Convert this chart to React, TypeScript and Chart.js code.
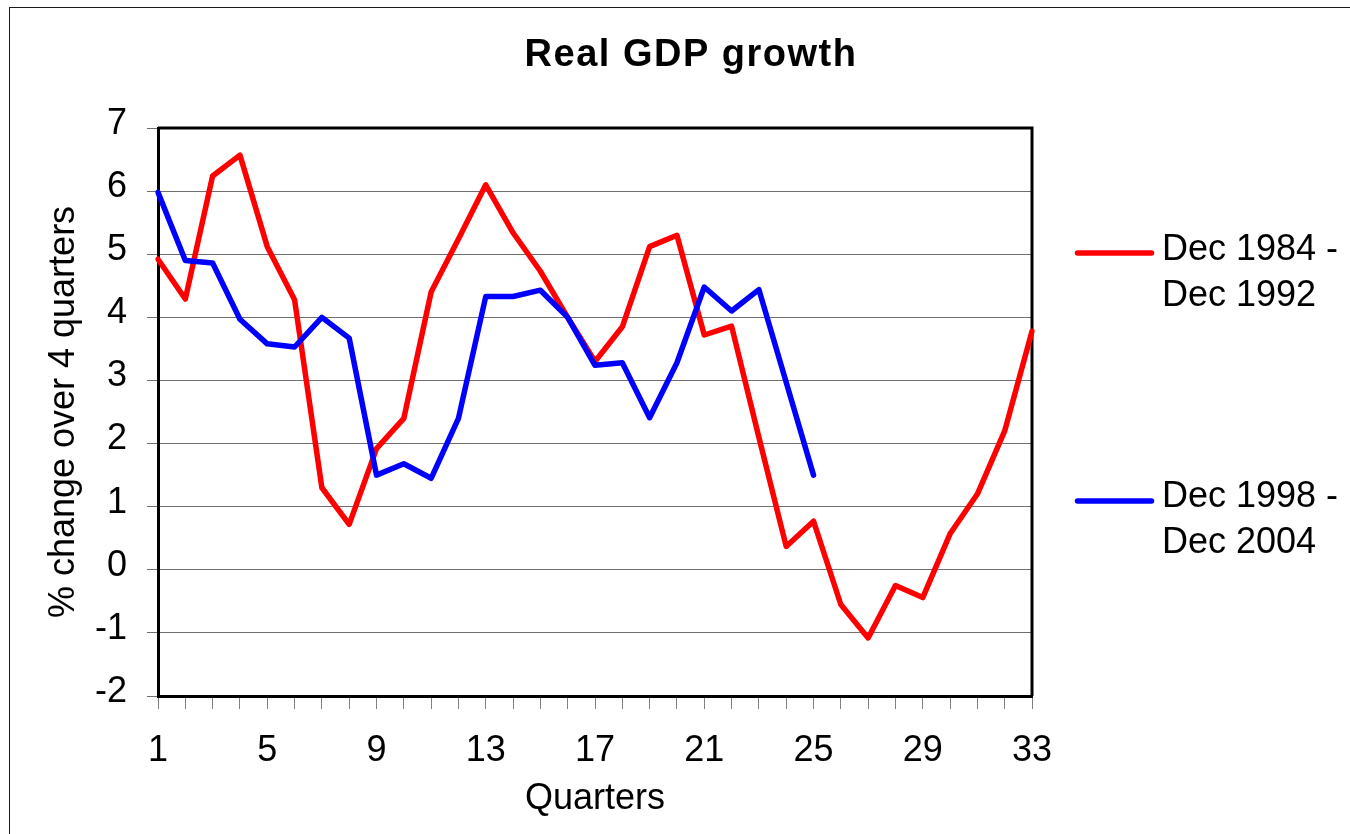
import React, { useEffect, useRef } from 'react';
import { Chart, registerables } from 'chart.js';

Chart.register(...registerables);

const QUARTERS = [
  '1', '2', '3', '4', '5', '6', '7', '8', '9', '10', '11',
  '12', '13', '14', '15', '16', '17', '18', '19', '20', '21', '22',
  '23', '24', '25', '26', '27', '28', '29', '30', '31', '32', '33',
];
const SHOWN_TICKS = ['1', '5', '9', '13', '17', '21', '25', '29', '33'];

const RED_SERIES = [
  4.92, 4.29, 6.24, 6.57, 5.12, 4.28, 1.3, 0.72, 1.92, 2.4, 4.4,
  5.24, 6.1, 5.34, 4.73, 4.0, 3.3, 3.85, 5.12, 5.3, 3.72, 3.86,
  2.1, 0.37, 0.77, -0.55, -1.08, -0.25, -0.44, 0.57, 1.2, 2.2, 3.78,
];
const BLUE_SERIES = [
  5.98, 4.9, 4.86, 3.97, 3.58, 3.53, 4.0, 3.67, 1.5, 1.68, 1.45,
  2.4, 4.33, 4.33, 4.43, 4.0, 3.24, 3.28, 2.41, 3.28, 4.48, 4.1,
  4.44, 2.97, 1.5,
];
const RED_NAME = ['Dec 1984 -', 'Dec 1992'];
const BLUE_NAME = ['Dec 1998 -', 'Dec 2004'];
const Y_MIN = -2;
const Y_MAX = 7;

const FONT = '"Liberation Sans", Arial, Helvetica, sans-serif';
const RED = '#FF0000';
const BLUE = '#0000FF';

const decorPlugin = {
  id: 'decor',
  beforeDraw(chart: any) {
    const ctx = chart.ctx as CanvasRenderingContext2D;
    ctx.save();
    ctx.fillStyle = '#ffffff';
    ctx.fillRect(0, 0, chart.width, chart.height);
    ctx.strokeStyle = '#1a1a1a';
    ctx.lineWidth = 1;
    ctx.strokeRect(9.5, 7.5, chart.width + 50, chart.height + 50);
    ctx.restore();
  },
  beforeDatasetsDraw(chart: any) {
    const ctx = chart.ctx as CanvasRenderingContext2D;
    const { left, top, right, bottom } = chart.chartArea;
    ctx.save();
    ctx.strokeStyle = '#000';
    ctx.lineWidth = 3;
    ctx.lineJoin = 'miter';
    ctx.beginPath();
    ctx.moveTo(left, top);
    ctx.lineTo(right, top);
    ctx.lineTo(right, bottom);
    ctx.stroke();
    ctx.restore();
  },
  afterDraw(chart: any) {
    const ctx = chart.ctx as CanvasRenderingContext2D;
    ctx.save();
    // Title
    ctx.fillStyle = '#000';
    ctx.font = `bold 38px ${FONT}`;
    (ctx as any).letterSpacing = '1.5px';
    ctx.textAlign = 'center';
    ctx.textBaseline = 'middle';
    ctx.fillText('Real GDP growth', 691, 56);
    (ctx as any).letterSpacing = '0px';

    // Legend
    const entries = [
      { color: RED, name: RED_NAME, lineY: 253, textY: 250 },
      { color: BLUE, name: BLUE_NAME, lineY: 501, textY: 497 },
    ];
    ctx.font = `36px ${FONT}`;
    ctx.textAlign = 'left';
    for (const e of entries) {
      ctx.strokeStyle = e.color;
      ctx.lineWidth = 5.5;
      ctx.lineCap = 'round';
      ctx.beginPath();
      ctx.moveTo(1077.5, e.lineY);
      ctx.lineTo(1151.5, e.lineY);
      ctx.stroke();
      e.name.forEach((line, i) => {
        ctx.fillText(line, 1162, e.textY + i * 46);
      });
    }
    ctx.restore();
  },
};

export default function App() {
  const ref = useRef<HTMLCanvasElement>(null);

  useEffect(() => {
    document.body.style.margin = '0';
    const canvas = ref.current!;
    const chart = new Chart(canvas, {
      type: 'line',
      data: {
        labels: QUARTERS,
        datasets: [
          {
            label: RED_NAME.join(' '),
            data: RED_SERIES,
            borderColor: RED,
            backgroundColor: RED,
            borderWidth: 5.5,
            pointRadius: 0,
            tension: 0,
            borderJoinStyle: 'round',
            borderCapStyle: 'round',
            order: 2,
          },
          {
            label: BLUE_NAME.join(' '),
            data: BLUE_SERIES,
            borderColor: BLUE,
            backgroundColor: BLUE,
            borderWidth: 5.5,
            pointRadius: 0,
            tension: 0,
            borderJoinStyle: 'round',
            borderCapStyle: 'round',
            order: 1,
          },
        ],
      },
      options: {
        animation: false,
        responsive: false,
        devicePixelRatio: 1,
        layout: { padding: { top: 128, right: 318, bottom: 0, left: 0 } },
        plugins: {
          legend: { display: false },
          title: { display: false },
          tooltip: { enabled: false },
        },
        scales: {
          x: {
            type: 'category',
            offset: false,
            grid: {
              display: true,
              drawOnChartArea: false,
              drawTicks: true,
              tickLength: 13,
              color: '#808080',
              offset: false,
            },
            border: { display: true, color: '#000', width: 3 },
            ticks: {
              autoSkip: false,
              maxRotation: 0,
              minRotation: 0,
              padding: 20,
              color: '#000',
              font: { family: FONT, size: 36 },
              callback: (_v: any, index: number) => {
                const lbl = QUARTERS[index];
                return SHOWN_TICKS.includes(lbl) ? lbl : '';
              },
            },
            title: {
              display: true,
              text: 'Quarters',
              color: '#000',
              font: { family: FONT, size: 36 },
              padding: { top: 0, bottom: 13 },
            },
            afterFit: (scale: any) => {
              scale.height = 138;
            },
          },
          y: {
            type: 'linear',
            min: Y_MIN,
            max: Y_MAX,
            ticks: {
              stepSize: 1,
              padding: 20,
              labelOffset: -4,
              color: '#000',
              font: { family: FONT, size: 36 },
            },
            grid: {
              color: '#707070',
              lineWidth: 1,
              drawTicks: true,
              tickLength: 11,
            },
            border: { display: true, color: '#000', width: 3 },
            title: {
              display: true,
              text: '% change over 4 quarters',
              color: '#000',
              font: { family: FONT, size: 36 },
              padding: { top: 42, bottom: 0 },
            },
            afterFit: (scale: any) => {
              scale.width = 158;
            },
          },
        },
      },
      plugins: [decorPlugin],
    });
    return () => chart.destroy();
  }, []);

  return (
    <div style={{ width: 1350, height: 834 }}>
      <canvas ref={ref} width={1350} height={834} style={{ display: 'block' }} />
    </div>
  );
}
